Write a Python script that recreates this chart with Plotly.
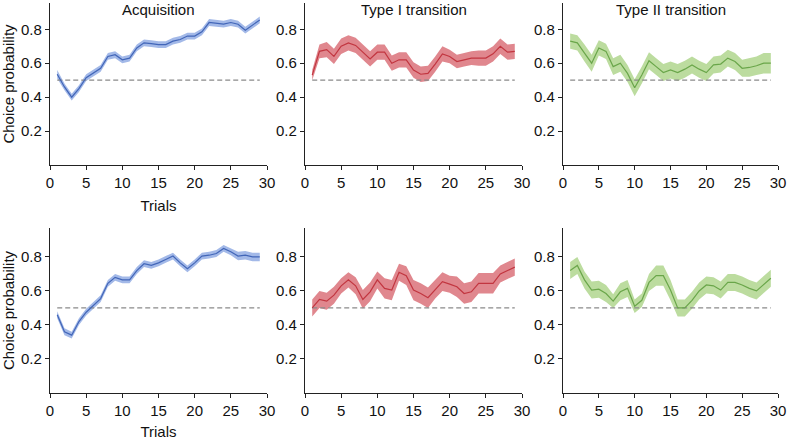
import plotly.graph_objects as go

trials = list(range(1, 30))

# Top row
acq_top = [0.535, 0.46, 0.40, 0.45, 0.515, 0.54, 0.57, 0.64, 0.65, 0.62, 0.63, 0.69, 0.72, 0.715, 0.71,
           0.71, 0.73, 0.74, 0.76, 0.76, 0.785, 0.84, 0.835, 0.83, 0.84, 0.83, 0.795, 0.825, 0.855]
acq_top_sem = [0.025, 0.02, 0.02, 0.02, 0.02, 0.02, 0.02, 0.02, 0.02, 0.02, 0.02, 0.02, 0.02, 0.02, 0.02,
               0.02, 0.02, 0.02, 0.02, 0.02, 0.02, 0.02, 0.02, 0.02, 0.02, 0.02, 0.02, 0.02, 0.02]
t1_top = [0.53, 0.67, 0.68, 0.64, 0.70, 0.72, 0.705, 0.665, 0.625, 0.665, 0.665, 0.60, 0.62, 0.62, 0.56,
          0.535, 0.54, 0.595, 0.655, 0.64, 0.61, 0.62, 0.63, 0.63, 0.63, 0.655, 0.70, 0.665, 0.67]
t1_top_sem = [0.03, 0.04, 0.045, 0.045, 0.045, 0.045, 0.045, 0.045, 0.045, 0.045, 0.045, 0.045, 0.045, 0.045, 0.045,
              0.045, 0.045, 0.045, 0.045, 0.04, 0.04, 0.04, 0.04, 0.045, 0.045, 0.045, 0.045, 0.045, 0.045]
t2_top = [0.73, 0.72, 0.66, 0.60, 0.69, 0.67, 0.58, 0.60, 0.54, 0.455, 0.53, 0.615, 0.58, 0.545, 0.56,
          0.545, 0.565, 0.59, 0.565, 0.545, 0.59, 0.595, 0.63, 0.61, 0.57, 0.575, 0.585, 0.60, 0.60]
t2_top_sem = [0.045, 0.045, 0.05, 0.05, 0.045, 0.045, 0.05, 0.05, 0.05, 0.05, 0.05, 0.05, 0.05, 0.05, 0.05,
              0.05, 0.05, 0.05, 0.05, 0.05, 0.05, 0.05, 0.05, 0.05, 0.05, 0.055, 0.055, 0.06, 0.06]

# Bottom row
acq_bot = [0.46, 0.36, 0.34, 0.42, 0.475, 0.515, 0.555, 0.645, 0.68, 0.665, 0.665, 0.72, 0.76, 0.75, 0.765,
           0.785, 0.805, 0.765, 0.73, 0.765, 0.805, 0.81, 0.82, 0.85, 0.83, 0.805, 0.81, 0.80, 0.80]
acq_bot_sem = [0.02, 0.02, 0.02, 0.02, 0.02, 0.02, 0.02, 0.02, 0.02, 0.02, 0.02, 0.02, 0.02, 0.02, 0.02,
               0.02, 0.02, 0.02, 0.02, 0.02, 0.02, 0.02, 0.02, 0.02, 0.02, 0.025, 0.025, 0.025, 0.025]
t1_bot = [0.50, 0.55, 0.54, 0.575, 0.63, 0.665, 0.63, 0.55, 0.595, 0.665, 0.615, 0.605, 0.71, 0.69, 0.605,
          0.585, 0.56, 0.61, 0.655, 0.64, 0.625, 0.585, 0.595, 0.645, 0.645, 0.645, 0.70, 0.72, 0.74]
t1_bot_sem = [0.05, 0.05, 0.05, 0.05, 0.045, 0.045, 0.05, 0.055, 0.055, 0.05, 0.06, 0.06, 0.05, 0.055, 0.06,
              0.06, 0.06, 0.055, 0.055, 0.05, 0.06, 0.06, 0.06, 0.06, 0.06, 0.06, 0.05, 0.05, 0.05]
t2_bot = [0.72, 0.75, 0.665, 0.605, 0.61, 0.585, 0.54, 0.595, 0.615, 0.51, 0.545, 0.65, 0.69, 0.69, 0.605,
          0.50, 0.50, 0.545, 0.60, 0.635, 0.63, 0.605, 0.65, 0.65, 0.635, 0.615, 0.60, 0.64, 0.675]
t2_bot_sem = [0.05, 0.05, 0.05, 0.05, 0.05, 0.05, 0.04, 0.05, 0.05, 0.04, 0.04, 0.05, 0.06, 0.06, 0.06,
              0.05, 0.05, 0.05, 0.05, 0.05, 0.05, 0.05, 0.05, 0.05, 0.05, 0.05, 0.05, 0.05, 0.05]

chance = 0.5
titles = ["Acquisition", "Type I transition", "Type II transition"]
x_ticks = [0, 5, 10, 15, 20, 25, 30]
y_ticks = [0.2, 0.4, 0.6, 0.8]

line_colors = ["#4266b8", "#c23640", "#6aa64a"]
band_colors = ["#a3b9e8", "#e0878e", "#bcdc9f"]

series = [
    [(acq_top, acq_top_sem), (t1_top, t1_top_sem), (t2_top, t2_top_sem)],
    [(acq_bot, acq_bot_sem), (t1_bot, t1_bot_sem), (t2_bot, t2_bot_sem)],
]

xdomains = [[50 / 788, 267 / 788], [305 / 788, 522 / 788], [563 / 788, 778 / 788]]
ydomains = [[1 - 165 / 440, 1 - 3 / 440], [1 - 393 / 440, 1 - 228 / 440]]
yranges = [[0, 0.955], [0, 0.97]]

fig = go.Figure()
layout = {}
font_fam = "Liberation Sans, Arial, sans-serif"

for r in range(2):
    for c in range(3):
        idx = r * 3 + c + 1
        xa = "x" if idx == 1 else f"x{idx}"
        ya = "y" if idx == 1 else f"y{idx}"
        mean, sem = series[r][c]
        upper = [m + s for m, s in zip(mean, sem)]
        lower = [m - s for m, s in zip(mean, sem)]
        fig.add_trace(go.Scatter(x=trials, y=upper, mode="lines", line=dict(width=0, color=band_colors[c]),
                                 xaxis=xa, yaxis=ya, showlegend=False, hoverinfo="skip"))
        fig.add_trace(go.Scatter(x=trials, y=lower, mode="lines", line=dict(width=0, color=band_colors[c]),
                                 fill="tonexty", fillcolor=band_colors[c],
                                 xaxis=xa, yaxis=ya, showlegend=False, hoverinfo="skip"))
        fig.add_trace(go.Scatter(x=[trials[0], trials[-1]], y=[chance, chance], mode="lines",
                                 line=dict(color="#8a8a8a", width=1.2, dash="5px,3px"),
                                 xaxis=xa, yaxis=ya, showlegend=False))
        fig.add_trace(go.Scatter(x=trials, y=mean, mode="lines", line=dict(color=line_colors[c], width=1.2),
                                 xaxis=xa, yaxis=ya, showlegend=False))
        axis_common = dict(showgrid=False, zeroline=False, showline=True, linecolor="#222", linewidth=1.3,
                           ticks="outside", ticklen=4, tickwidth=1.3, tickcolor="#222", automargin=False,
                           tickfont=dict(family=font_fam, size=15, color="#111"))
        xkey = "xaxis" if idx == 1 else f"xaxis{idx}"
        ykey = "yaxis" if idx == 1 else f"yaxis{idx}"
        xd = dict(axis_common, domain=xdomains[c], range=[0, 30], tickvals=x_ticks, anchor=ya)
        yd = dict(axis_common, domain=ydomains[r], range=yranges[r], tickvals=y_ticks,
                  ticktext=[f"{v:.1f}" for v in y_ticks], anchor=xa)
        if c == 0:
            xd["title"] = dict(text="Trials", font=dict(family=font_fam, size=15, color="#111"), standoff=10)
            yd["title"] = dict(text="Choice probability", font=dict(family=font_fam, size=15, color="#111"),
                               standoff=4)
        layout[xkey] = xd
        layout[ykey] = yd

annotations = []
for c in range(3):
    annotations.append(dict(text=titles[c], x=sum(xdomains[c]) / 2, y=1 - 9 / 440, xref="paper", yref="paper",
                            showarrow=False, xanchor="center", yanchor="middle",
                            font=dict(family=font_fam, size=15, color="#111")))

fig.update_layout(width=788, height=440, margin=dict(l=0, r=0, t=0, b=0, autoexpand=False),
                  plot_bgcolor="white", paper_bgcolor="white", annotations=annotations, **layout)

fig.write_html("out.html", config={"displayModeBar": False},
               post_script="document.body.style.margin='0';")
